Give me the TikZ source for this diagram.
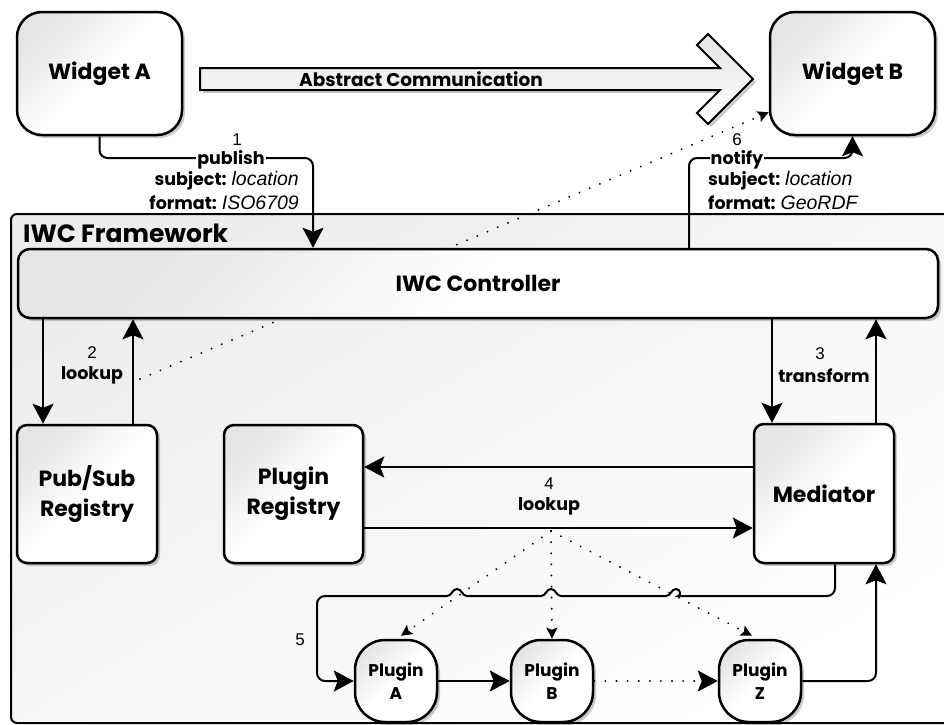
\documentclass[tikz,border=0pt]{standalone}
\usepackage{fontspec}
\setmainfont{Poppins}
\newfontfamily\arl{Liberation Sans}
\usetikzlibrary{arrows.meta,shadows,calc}
\newcommand{\itl}[1]{{\arl\mdseries\itshape\fontsize{19.5}{20}\selectfont #1}}
\begin{document}
\begin{tikzpicture}[x=1pt,y=-1pt,
  shadowed/.style={drop shadow={shadow xshift=3pt,shadow yshift=-3pt,opacity=0.2,fill=black}},
  box/.style={draw, line width=2.5pt, top color=black!10, bottom color=white, middle color=white, shading angle=45,
    align=center, font=\bfseries\fontsize{22}{30}\selectfont, shadowed, inner sep=0pt},
  plug/.style={box, rounded corners=30pt, minimum width=82pt, minimum height=82pt,
    font=\bfseries\fontsize{17}{23}\selectfont},
  conn/.style={line width=2pt, -{Stealth[length=20pt,width=21pt,inset=4pt]}},
  dots/.style={line width=2pt, line cap=round, dash pattern=on 0.1pt off 11pt},
  smalltip/.style={-{Stealth[length=11pt,width=11pt,inset=2pt]}},
  bigtip/.style={-{Stealth[length=20pt,width=21pt,inset=4pt]}},
  lbl/.style={font=\bfseries\fontsize{17.5}{20}\selectfont, inner sep=1pt},
  num/.style={font=\arl\fontsize{17}{20}\selectfont, inner sep=0pt},
]
\clip (0,0) rectangle (944,724);
% framework container
\node[draw, line width=2pt, rounded corners=6pt, top color=black!7, bottom color=white,
  shading angle=30, minimum width=950pt, minimum height=509pt, anchor=north west,
  inner sep=0pt] (fw) at (10,213) {};
\node[anchor=base west, font=\bfseries\fontsize{25}{28}\selectfont, inner sep=0pt] (fwl) at (23,242) {IWC Framework};

% widgets
\node[box, rounded corners=25pt, minimum width=165pt, minimum height=123pt] (wa) at (99.5,73.5) {Widget A};
\node[box, rounded corners=25pt, minimum width=165pt, minimum height=123pt] (wb) at (852.5,73.5) {Widget B};

% abstract communication arrow
\path[draw, line width=2pt, top color=black!10, bottom color=white, shadowed]
  (200,68) -- (720,68) -- (697,45) -- (708,34) -- (753,79) -- (708,124) -- (697,113) -- (720,90) -- (200,90) -- cycle;
\node[font=\bfseries\fontsize{18.5}{20}\selectfont, inner sep=0pt] (ac) at (421,79) {Abstract Communication};

% dotted line lookup -> widget B (behind controller)
\coordinate (lk) at (140,379);
\draw[dots, smalltip] (lk) -- ($(wb.south west)+(0,-24)$);

% controller and boxes
\node[box, rounded corners=12pt, minimum width=920pt, minimum height=69pt] (ctrl) at (478,283.5) {IWC Controller};
\node[box, rounded corners=10pt, minimum width=140pt, minimum height=138pt] (ps) at (87,494) {Pub/Sub\\Registry};
\node[box, rounded corners=10pt, minimum width=139pt, minimum height=138pt] (pr) at (293.5,494) {Plugin\\Registry};
\node[box, rounded corners=10pt, minimum width=140pt, minimum height=139pt] (med) at (824,493.5) {Mediator};
\node[plug] (pa) at (396,681) {Plugin\\A};
\node[plug] (pb) at (552,681) {Plugin\\B};
\node[plug] (pz) at (760,681) {Plugin\\Z};

% 1 publish
\draw[conn, rounded corners=8pt] (wa.south) |- (313,158) -- (313,0 |- ctrl.north);
\node[num, anchor=base] at (237,145) {1};
\node[lbl, fill=white, anchor=base] at (231,164) {publish};
\node[lbl, anchor=base east] at (300,185) {subject: \itl{location}};
\node[lbl, anchor=base east] at (300,209) {format: \itl{ISO6709}};

% 6 notify
\draw[conn, rounded corners=8pt] (689,0 |- ctrl.north) |- (wb.south |- 0,158) -- (wb.south);
\node[num, anchor=base] at (737,145) {6};
\node[lbl, fill=white, anchor=base] at (737,164) {notify};
\node[lbl, anchor=base west] at (707,185) {subject: \itl{location}};
\node[lbl, anchor=base west] at (707,209) {format: \itl{GeoRDF}};

% 2 lookup
\draw[conn] (43,0 |- ctrl.south) -- (43,0 |- ps.north);
\draw[conn] (133,0 |- ps.north) -- (133,0 |- ctrl.south);
\node[num, anchor=base] at (92,358) {2};
\node[lbl, anchor=base] at (92,379) {lookup};

% 3 transform
\draw[conn] (772,0 |- ctrl.south) -- (772,0 |- med.north);
\draw[conn] (876,0 |- med.north) -- (876,0 |- ctrl.south);
\node[num, anchor=base] at (820,359) {3};
\node[lbl, anchor=base] at (824,382) {transform};

% 4 lookup
\draw[conn] (med.west |- 0,467) -- (pr.east |- 0,467);
\draw[conn] (pr.east |- 0,528) -- (med.west |- 0,528);
\node[num, anchor=base] at (549,489) {4};
\node[lbl, anchor=base] at (549,510) {lookup};

% fan of dotted lines
\coordinate (fan) at (551,531);
\draw[dots, smalltip] (fan) -- ($(pa.north)+(5,-3)$);
\draw[dots, smalltip] (fan) -- (pb.north);
\draw[dots, smalltip] (fan) -- ($(pz.north)+(-8,-3)$);

% 5 chain
\draw[conn, rounded corners=8pt] ($(med.south)+(11,0)$) -- (835,596) -- (686,596) [sharp corners]
  to[out=180,in=0] (676,589) to[out=180,in=0] (666,596) -- (561,596)
  to[out=180,in=0] (551,589) to[out=180,in=0] (541,596) -- (467,596)
  to[out=180,in=0] (457,589) to[out=180,in=0] (447,596) [rounded corners=8pt]
  -- (317,596) -- (317,681) -- (pa.west);
\node[num, anchor=base] at (300,645) {5};

\draw[conn] (pa.east) -- (pb.west);
\draw[dots, bigtip] (pb.east) -- (pz.west);
\draw[conn, rounded corners=8pt] (pz.east) -| ($(med.south)+(52,0)$);
\end{tikzpicture}
\end{document}
